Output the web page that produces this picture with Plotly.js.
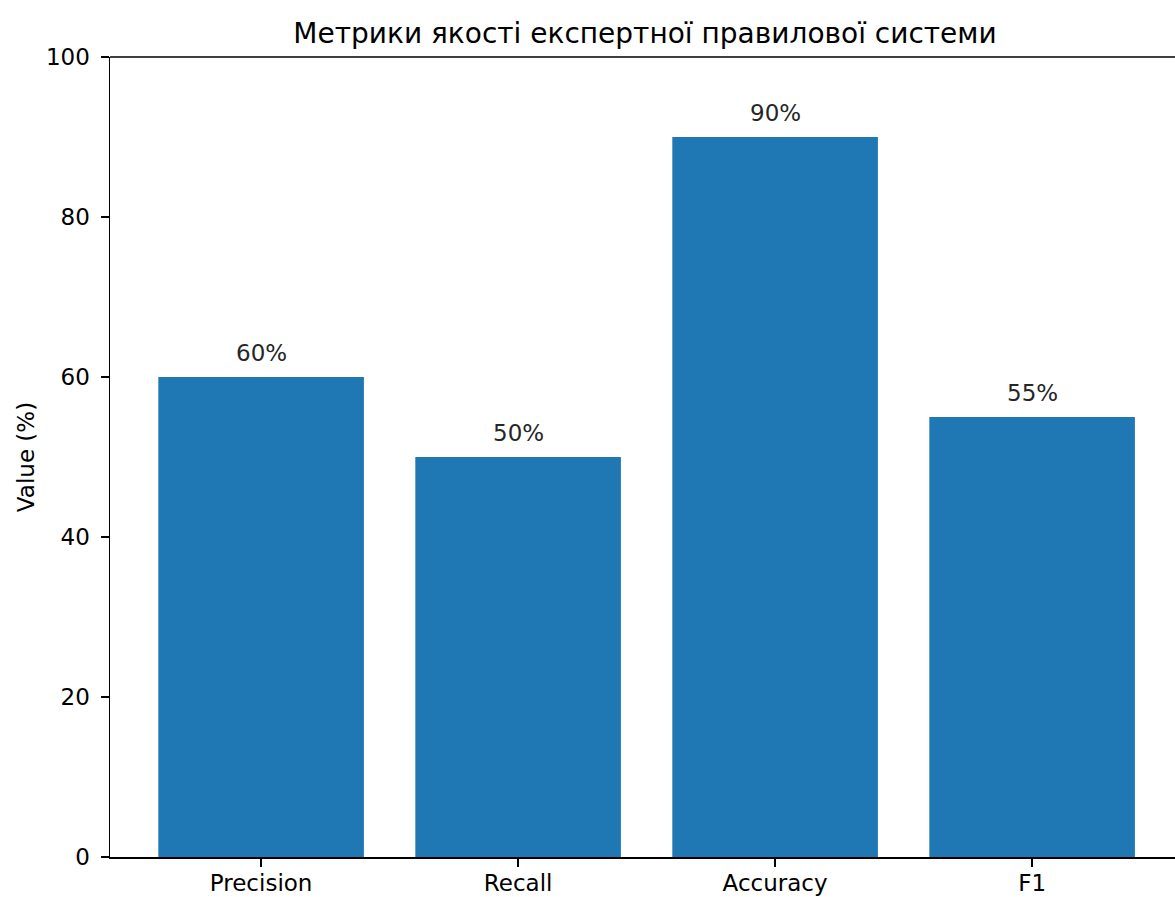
<!DOCTYPE html>
<html>
<head>
<meta charset="utf-8">
<script src="https://cdn.plot.ly/plotly-3.0.1.min.js"></script>
<style>html,body{margin:0;padding:0;background:#fff;}</style>
</head>
<body>
<div id="chart" style="width:1175px;height:897px;"></div>
<script>
var categories = ["Precision", "Recall", "Accuracy", "F1"];
var values = [60, 50, 90, 55];
var labels = ["60%", "50%", "90%", "55%"];
var yTicks = [0, 20, 40, 60, 80, 100];

var font = "DejaVu Sans, sans-serif";
var trace = {
  type: "bar",
  x: [0, 1, 2, 3],
  y: values,
  width: 0.8,
  marker: {color: "#1f77b4", line: {width: 0}},
  hoverinfo: "skip"
};
var annotations = values.map(function (v, i) {
  return {x: i, y: v, text: labels[i], showarrow: false, xref: "x", yref: "y",
    yanchor: "bottom", yshift: 9, font: {family: font, size: 23, color: "#262626"}};
});
var layout = {
  width: 1175, height: 897,
  margin: {l: 110, r: 0, t: 57, b: 40, pad: 0},
  paper_bgcolor: "#fff", plot_bgcolor: "#fff",
  showlegend: false,
  title: {text: "Метрики якості експертної правилової системи",
    font: {family: font, size: 28, color: "#000"},
    x: (645 - 110) / 1065, xref: "paper", xanchor: "center", y: 1, yref: "paper", yanchor: "bottom", pad: {b: 14}},
  xaxis: {range: [-0.588, 3.556], tickvals: [0, 1, 2, 3], ticktext: categories,
    ticks: "outside", ticklen: 8, tickwidth: 1.5, tickcolor: "#000",
    showline: true, linecolor: "#000", linewidth: 1.5, mirror: false,
    showgrid: false, zeroline: false, ticklabelstandoff: -3,
    tickfont: {family: font, size: 23, color: "#000"}},
  yaxis: {range: [0, 100], tickvals: yTicks, ticks: "outside", ticklen: 8, tickwidth: 1.5, tickcolor: "#000",
    showline: true, linecolor: "#000", linewidth: 1.5, showgrid: false, zeroline: false,
    ticklabelstandoff: 6,
    tickfont: {family: font, size: 23, color: "#000"},
    title: {text: "Value (%)", font: {family: font, size: 23, color: "#000"}, standoff: 5}},
  annotations: annotations,
  shapes: [{type: "line", xref: "paper", yref: "paper", x0: 0, x1: 1, y0: 1, y1: 1,
    line: {color: "#000", width: 1.5}}]
};
Plotly.newPlot("chart", [trace], layout, {displayModeBar: false, staticPlot: true});
</script>
</body>
</html>
